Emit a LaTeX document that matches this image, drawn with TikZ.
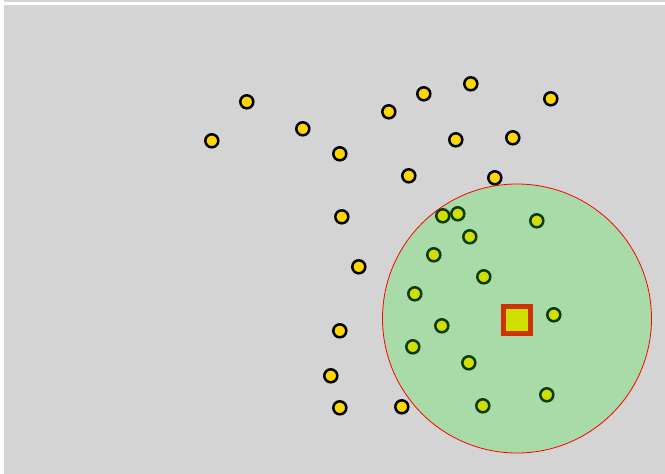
\documentclass[tikz,border=0pt]{standalone}
\usepackage{tikz}
\usetikzlibrary{positioning}
\definecolor{panelgray}{HTML}{D4D4D4}
\definecolor{zonegreen}{HTML}{A8DBA8}
\definecolor{goldpt}{HTML}{FFD700}
\definecolor{limept}{HTML}{D0DE00}
\definecolor{darkrim}{HTML}{0B3A0B}
\definecolor{querered}{HTML}{CC3300}

\begin{document}
\begin{tikzpicture}[
  x=1pt,y=-1pt,
  outpt/.style={circle,draw=black,fill=goldpt,line width=2.5pt,
                minimum size=13pt,inner sep=0pt},
  inpt/.style={circle,draw=darkrim,fill=limept,line width=2.5pt,
               minimum size=13pt,inner sep=0pt},
  query/.style={rectangle,draw=querered,fill=limept,line width=5pt,
                minimum size=27pt,inner sep=0pt}
]
  \useasboundingbox (0,0) rectangle (665,474);
  \fill[white] (0,0) rectangle (665,474);
  \fill[panelgray] (4,0) rectangle (665,2);
  \fill[panelgray] (4,5) rectangle (665,474);
  % search radius
  \begin{scope}
    \clip (4,5) rectangle (665,474);
    \node[circle,draw=red,fill=zonegreen,line width=0.8pt,
          minimum size=269pt,inner sep=0pt] (zone) at (517,318.5) {};
  \end{scope}
  % points outside the radius
  \foreach \px/\py [count=\i] in {246/101,211/140,302/128,339/153,388/111,
      423/93,470/83,550/98,455/139,512/137,408/175,494/177,341/216,
      358/266,339/330,330/375,339/407,401/406}
    \node[outpt] (out\i) at (\px+0.8,\py+0.8) {};
  % points inside the radius
  \foreach \px/\py [count=\i] in {442/215,457/213,469/236,536/220,433/254,
      483/276,414/293,553/314,441/325,412/346,468/362,482/405,546/394}
    \node[inpt] (in\i) at (\px+0.8,\py+0.8) {};
  \node[query] (q) at (516.5,319.5) {};
\end{tikzpicture}
\end{document}
